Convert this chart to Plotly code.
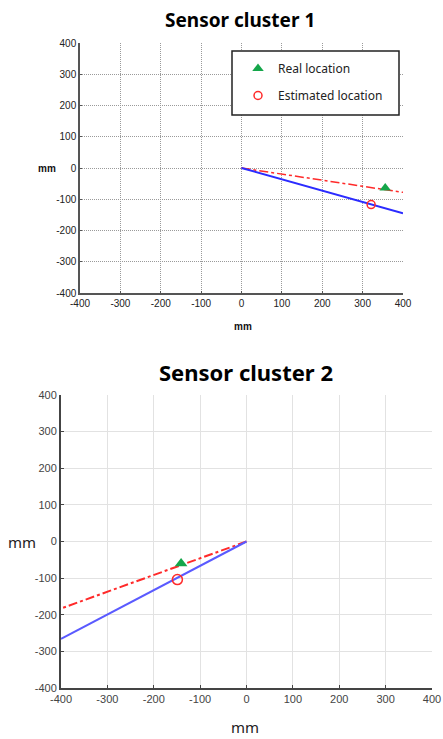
import plotly.graph_objects as go

# ---- data ----
axis_ticks = [-400, -300, -200, -100, 0, 100, 200, 300, 400]
axis_tick_text = ["-400", "-300", "-200", "-100", "0", "100", "200", "300", "400"]

# Sensor cluster 1
c1_solid_x = [0, 400]
c1_solid_y = [0, -145]
c1_dash_x = [0, 400]
c1_dash_y = [0, -78]
c1_real = (356, -64)
c1_est = (321, -117)

# Sensor cluster 2
c2_solid_x = [0, -400]
c2_solid_y = [0, -266]
c2_dash_x = [0, -400]
c2_dash_y = [0, -183]
c2_real = (-141, -60)
c2_est = (-149, -104)

W, H = 443, 739
def px_x(a, b):
    return [a / W, b / W]
def px_y(top, bottom):
    return [1 - bottom / H, 1 - top / H]

GREEN = "#14a64a"
RED = "#ff2a2a"
BLUE1 = "#2b2bff"
BLUE2 = "#5a5aff"

fig = go.Figure()

# cluster 1 traces
fig.add_trace(go.Scatter(x=c1_dash_x, y=c1_dash_y, mode="lines",
                         line=dict(color=RED, width=1.5, dash="dashdot"),
                         xaxis="x", yaxis="y", showlegend=False, hoverinfo="skip"))
fig.add_trace(go.Scatter(x=c1_solid_x, y=c1_solid_y, mode="lines",
                         line=dict(color=BLUE1, width=2),
                         xaxis="x", yaxis="y", showlegend=False, hoverinfo="skip"))
fig.add_trace(go.Scatter(x=[c1_real[0]], y=[c1_real[1]], mode="markers",
                         marker=dict(symbol="triangle-up", color=GREEN, size=10),
                         name="Real location", legendgroup="a",
                         xaxis="x", yaxis="y"))
fig.add_trace(go.Scatter(x=[c1_est[0]], y=[c1_est[1]], mode="markers",
                         marker=dict(symbol="circle-open", color=RED, size=8,
                                     line=dict(width=1.5)),
                         name="Estimated location", legendgroup="b",
                         xaxis="x", yaxis="y"))

# cluster 2 traces
fig.add_trace(go.Scatter(x=c2_dash_x, y=c2_dash_y, mode="lines",
                         line=dict(color=RED, width=2, dash="dashdot"),
                         xaxis="x2", yaxis="y2", showlegend=False, hoverinfo="skip"))
fig.add_trace(go.Scatter(x=c2_solid_x, y=c2_solid_y, mode="lines",
                         line=dict(color=BLUE2, width=2),
                         xaxis="x2", yaxis="y2", showlegend=False, hoverinfo="skip"))
fig.add_trace(go.Scatter(x=[c2_real[0]], y=[c2_real[1]], mode="markers",
                         marker=dict(symbol="triangle-up", color=GREEN, size=11),
                         xaxis="x2", yaxis="y2", showlegend=False))
fig.add_trace(go.Scatter(x=[c2_est[0]], y=[c2_est[1]], mode="markers",
                         marker=dict(symbol="circle-open", color=RED, size=10,
                                     line=dict(width=1.5)),
                         xaxis="x2", yaxis="y2", showlegend=False))

tick_font1 = dict(family="Liberation Sans, Arial", size=10, color="#222")
tick_font2 = dict(family="Liberation Sans, Arial", size=11, color="#444")

ax1 = dict(range=[-400, 400], tickvals=axis_ticks, ticktext=axis_tick_text,
           showgrid=True, gridcolor="#9a9a9a", griddash="1px,1px", gridwidth=1,
           zeroline=False, showline=True, linecolor="#555", linewidth=1.5,
           tickfont=tick_font1, ticks="inside", ticklen=2, tickcolor="#555",
           fixedrange=True, automargin=False)
ax2 = dict(range=[-400, 400], tickvals=axis_ticks, ticktext=axis_tick_text,
           showgrid=True, gridcolor="#e2e2e2", gridwidth=1,
           zeroline=False, showline=True, linecolor="#444", linewidth=2,
           tickfont=tick_font2, ticks="inside", ticklen=3, tickcolor="#444",
           fixedrange=True, automargin=False)

def label(text, x, y, size, family, color="#222"):
    return dict(text=text, x=x / W, y=1 - y / H, xref="paper", yref="paper",
                xanchor="center", yanchor="middle", showarrow=False,
                font=dict(family=family, size=size, color=color))

fig.update_layout(
    width=W, height=H,
    margin=dict(l=0, r=0, t=0, b=0, autoexpand=False),
    paper_bgcolor="white", plot_bgcolor="white",
    xaxis=dict(ax1, domain=px_x(80, 403), anchor="y"),
    yaxis=dict(ax1, domain=px_y(43, 293), anchor="x"),
    xaxis2=dict(ax2, domain=px_x(61, 432), anchor="y2"),
    yaxis2=dict(ax2, domain=px_y(395, 688), anchor="x2"),
    showlegend=True,
    legend=dict(x=238 / W, y=1 - 54 / H, xanchor="left", yanchor="top",
                borderwidth=0, bgcolor="rgba(0,0,0,0)",
                font=dict(family="Noto Sans", size=12, color="#222"),
                traceorder="grouped", tracegroupgap=8,
                itemwidth=30),
    shapes=[
        dict(type="rect", xref="paper", yref="paper",
             x0=232 / W, x1=399 / W, y0=1 - 115 / H, y1=1 - 51 / H,
             line=dict(color="#222", width=1.5), fillcolor="white", layer="above"),
    ],
    annotations=[
        label("<b>Sensor cluster 1</b>", 240, 20, 19, "Noto Sans", "black"),
        label("<b>mm</b>", 47, 168, 10, "Liberation Sans, Arial", "#111"),
        label("<b>mm</b>", 243, 327, 10, "Liberation Sans, Arial", "#111"),
        label("<b>Sensor cluster 2</b>", 246, 372, 22, "Noto Sans", "black"),
        label("mm", 22, 542, 15, "Noto Sans"),
        label("mm", 245, 727, 15, "Noto Sans"),
    ],
)

fig.write_html(
    "out.html",
    post_script="document.body.style.margin='0';document.body.style.overflow='hidden';",
)
